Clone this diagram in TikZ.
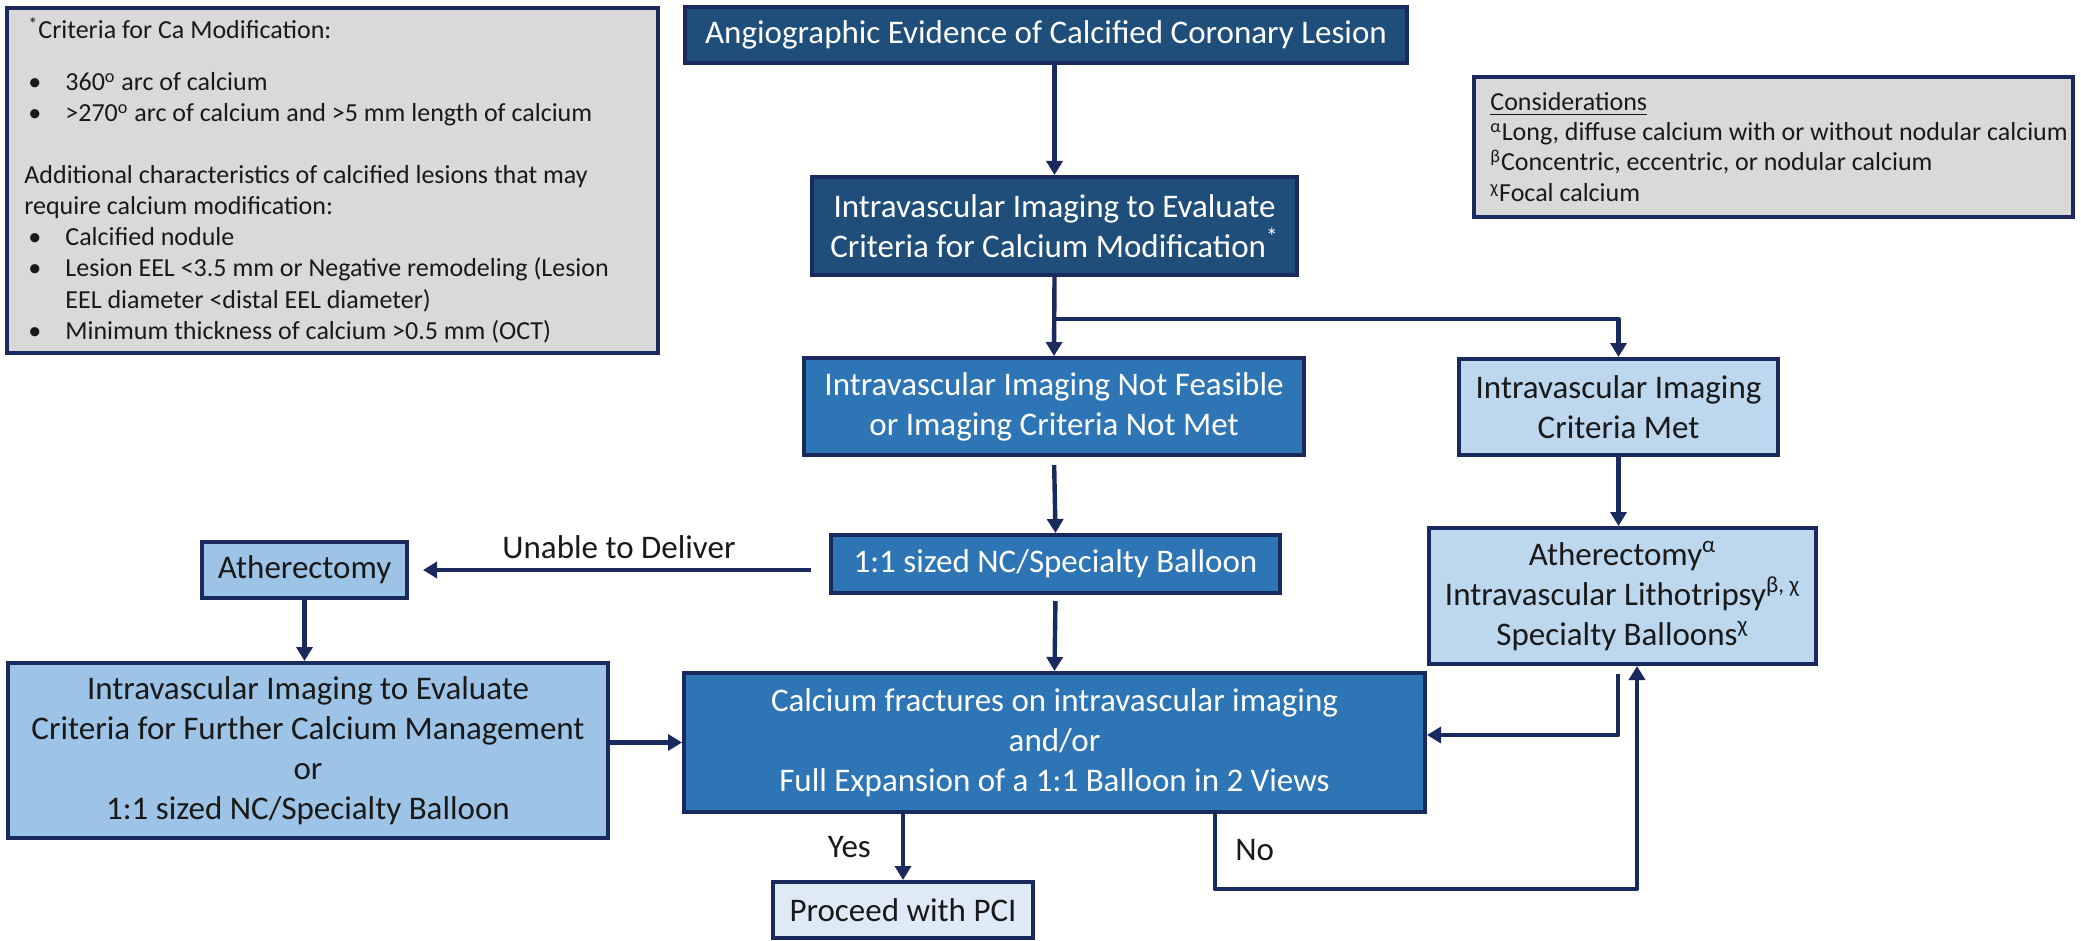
\documentclass[tikz,border=0pt]{standalone}
\usepackage{fontspec}
\setmainfont{Carlito}
\usetikzlibrary{arrows.meta}

\definecolor{navy}{RGB}{27,42,94}
\definecolor{deepblue}{RGB}{31,78,122}
\definecolor{midblue}{RGB}{46,117,182}
\definecolor{paleblue}{RGB}{189,215,238}
\definecolor{skyblue}{RGB}{157,195,230}
\definecolor{iceblue}{RGB}{222,235,247}
\definecolor{panelgray}{RGB}{217,217,217}
\definecolor{ink}{RGB}{25,25,25}

% one drawing unit is one pixel of a 2081 x 941 canvas, y grows downwards
\tikzset{
  x=0.5pt, y=-0.5pt,
  size/.style 2 args={minimum width=#1*0.5pt, minimum height=#2*0.5pt},
  box/.style={draw=navy, line width=2pt, inner sep=0pt, align=center,
              font=\fontsize{16.5}{20}\selectfont},
  darkbox/.style={box, fill=deepblue, text=white},
  midbox/.style={box, fill=midblue, text=white},
  lightbox/.style={box, fill=paleblue, text=ink},
  skybox/.style={box, fill=skyblue, text=ink},
  icebox/.style={box, fill=iceblue, text=ink},
  notebox/.style={draw=navy, line width=2.4pt, fill=panelgray, inner sep=0pt},
  notetext/.style={anchor=base west, inner sep=0pt, text=ink,
                   font=\fontsize{13}{15.5}\selectfont},
  flow/.style={draw=navy, line width=2.2pt, line join=round,
               -{Triangle[length=7pt,width=8pt]}},
  tag/.style={text=ink, inner sep=0pt, font=\fontsize{16.5}{20}\selectfont},
}

\newcommand{\bul}{\makebox[18.5pt][l]{\textbullet}}

\begin{document}
\begin{tikzpicture}
\useasboundingbox (0,0) rectangle (2081,941);
\fill[white] (0,0) rectangle (2081,941);

% ---- criteria panel ----
\node[notebox, size={651}{345}] (crit) at (332.5,180.5) {};
\node[notetext] (c1) at (28,39) {\textsuperscript{*}Criteria for Ca Modification:};
\node[notetext] (c2) at (28,91) {\bul 360\textsuperscript{o} arc of calcium};
\node[notetext] (c3) at (28,122) {\bul >270\textsuperscript{o} arc of calcium and >5 mm length of calcium};
\node[notetext] (c4) at (24,184) {Additional characteristics of calcified lesions that may};
\node[notetext] (c5) at (24,214) {require calcium modification:};
\node[notetext] (c6) at (28,246) {\bul Calcified nodule};
\node[notetext] (c7) at (28,277) {\bul Lesion EEL <3.5 mm or Negative remodeling (Lesion};
\node[notetext] (c8) at (65,308) {EEL diameter <distal EEL diameter)};
\node[notetext] (c9) at (28,339) {\bul Minimum thickness of calcium >0.5 mm (OCT)};

% ---- considerations panel ----
\node[notebox, size={599}{140}] (cons) at (1773.5,147) {};
\node[notetext] (k1) at (1490,111) {\underline{Considerations}};
\node[notetext] (k2) at (1490,141) {\textsuperscript{α}Long, diffuse calcium with or without nodular calcium};
\node[notetext] (k3) at (1490,171) {\textsuperscript{β}Concentric, eccentric, or nodular calcium};
\node[notetext] (k4) at (1490,202) {\textsuperscript{χ}Focal calcium};

% ---- flow boxes ----
\node[darkbox, size={722}{56}] (angio) at (1046,35)
  {Angiographic Evidence of Calcified Coronary Lesion};
\node[darkbox, size={485}{98}] (eval) at (1054.5,226)
  {Intravascular Imaging to Evaluate\\Criteria for Calcium Modification\textsuperscript{*}};
\node[midbox, size={500}{97}] (nofeas) at (1054,406.5)
  {Intravascular Imaging Not Feasible\\or Imaging Criteria Not Met};
\node[midbox, size={449}{58}] (nc) at (1055.5,564)
  {1:1 sized NC/Specialty Balloon};
\node[lightbox, size={319}{96}] (met) at (1618.5,407)
  {Intravascular Imaging\\Criteria Met};
\node[lightbox, size={387}{136}] (mods) at (1622.5,596)
  {Atherectomy\textsuperscript{α}\\Intravascular Lithotripsy\textsuperscript{β, χ}\\Specialty Balloons\textsuperscript{χ}};
\node[skybox, size={205}{56}] (ath) at (304.5,570)
  {Atherectomy};
\node[skybox, size={600}{175}] (further) at (308,750.5)
  {Intravascular Imaging to Evaluate\\Criteria for Further Calcium Management\\or\\1:1 sized NC/Specialty Balloon};
\node[midbox, size={741}{139}] (calc) at (1054.5,742.5)
  {Calcium fractures on intravascular imaging\\and/or\\Full Expansion of a 1:1 Balloon in 2 Views};
\node[icebox, size={260}{56}] (pci) at (903,910)
  {Proceed with PCI};

% ---- junction points ----
\coordinate (split) at (1055,319);
\coordinate (back) at (1618,735);
\coordinate (noturn) at (1215,889);
\coordinate (nocorner) at (1637,889);

% ---- connectors ----
\draw[flow] (angio.south -| eval.north) -- (eval.north);
\draw[flow] (eval.south) -- (nofeas.north);
\draw[flow] (split) -| (met.north);
\draw[flow, shorten <=4pt] (nofeas.south) -- (nc.north);
\draw[flow, shorten <=3pt] (nc.south) -- (calc.north);
\draw[flow, shorten <=9pt, shorten >=7pt] (ath.east -| nc.west)
  -- node[tag, above=4.5pt] (undel) {Unable to Deliver} (ath.east);
\draw[flow] (ath.south) -- (ath.south |- further.north);
\draw[flow] (further.east |- calc.west) -- (calc.west);
\draw[flow] (met.south) -- (met.south |- mods.north);
\draw[flow, shorten <=4pt] (mods.south -| back) -- (back) -- (back -| calc.east);
\draw[flow] (calc.south -| noturn) -- (noturn) -- (nocorner) -- (nocorner |- mods.south);
\draw[flow] (calc.south -| pci.north) -- node[tag, left=15pt] (yes) {Yes} (pci.north);
\node[tag, anchor=west] (nolbl) at (1235,850) {No};
\end{tikzpicture}
\end{document}
